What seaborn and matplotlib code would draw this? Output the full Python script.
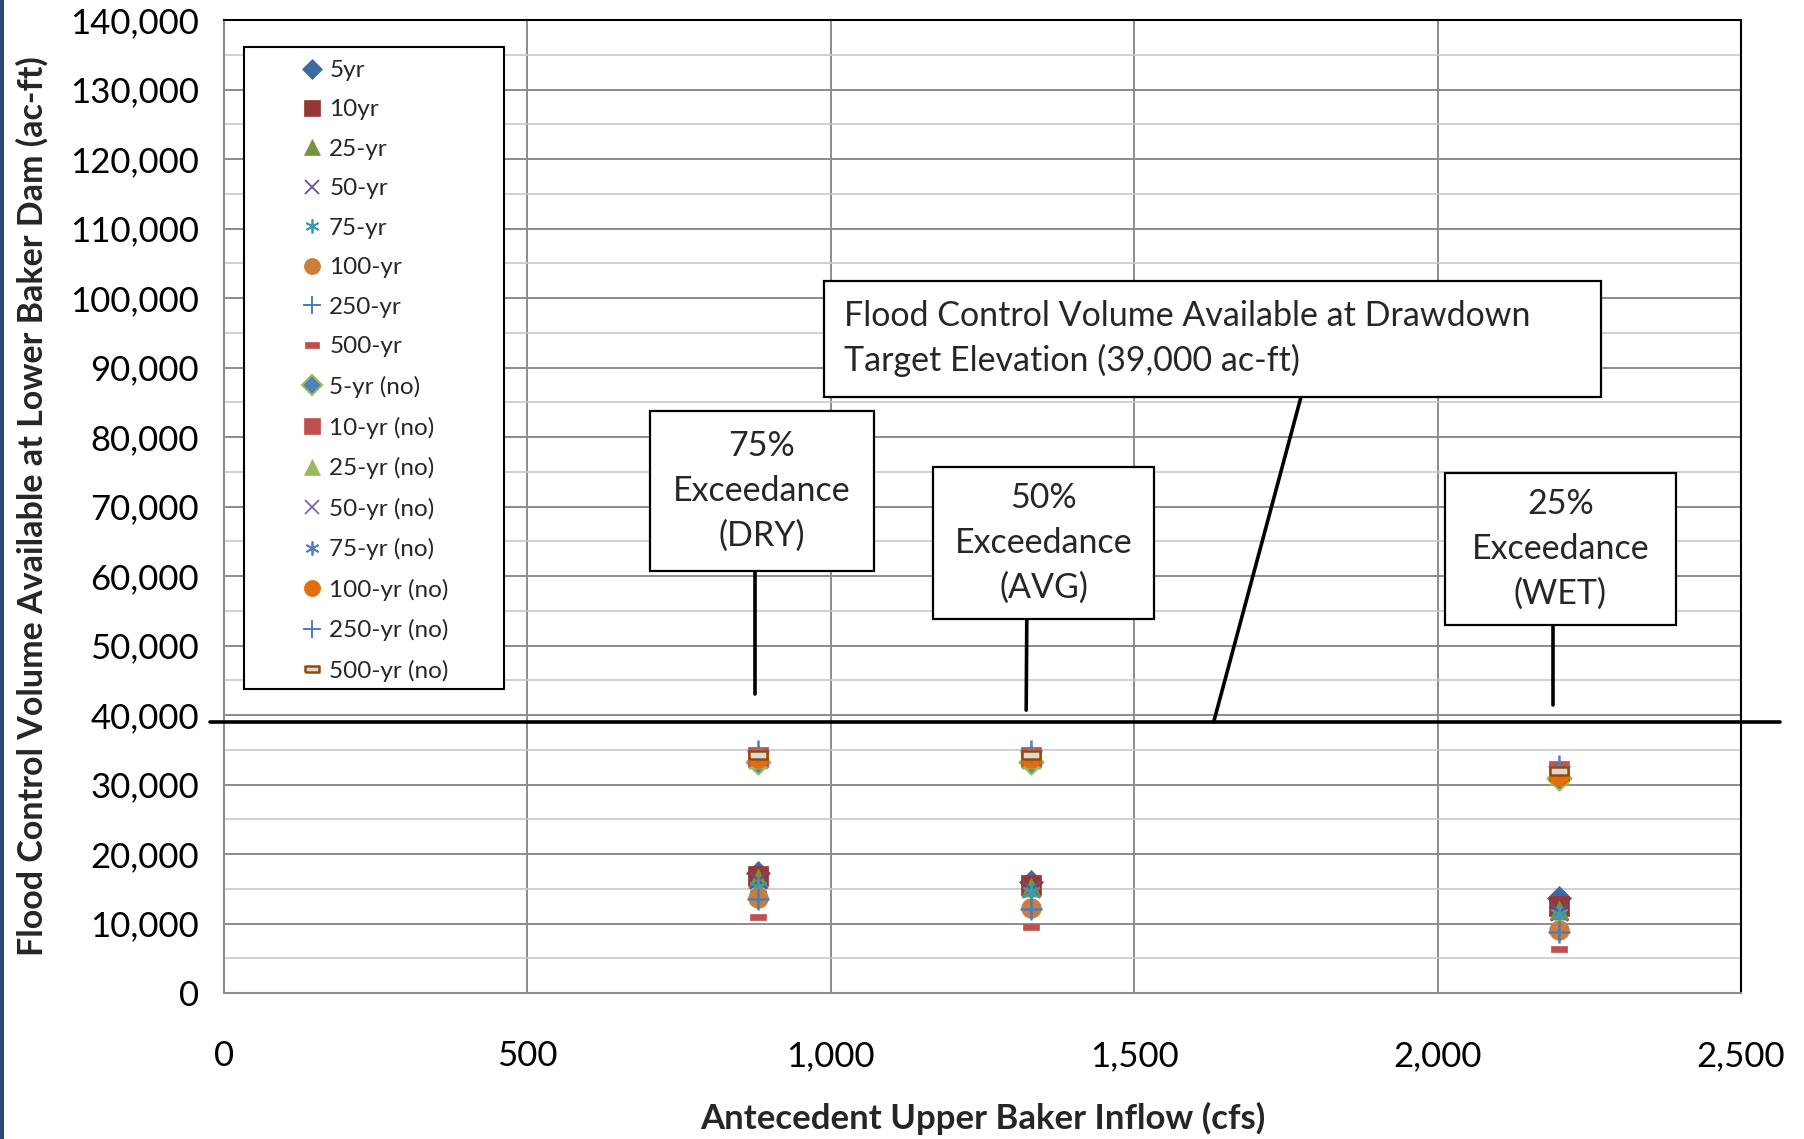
import numpy as np
import pandas as pd
import matplotlib
matplotlib.use("Agg")
import matplotlib.pyplot as plt
from matplotlib.patches import Rectangle
from matplotlib.ticker import FuncFormatter, MultipleLocator
from matplotlib.lines import Line2D
import seaborn as sns

# Antecedent inflow scenarios (cfs): 75%, 50%, 25% exceedance
inflow = [880, 1330, 2200]

# Flood control volume available (ac-ft), with drawdown
vol_5yr = [17200, 15900, 13700]
vol_10yr = [16800, 15600, 12500]
vol_25yr = [16500, 15200, 11900]
vol_50yr = [16200, 15000, 11600]
vol_75yr = [15300, 14600, 11300]
vol_100yr = [13700, 12300, 9000]
vol_250yr = [13500, 12100, 8800]
vol_500yr = [11000, 9500, 6300]

# Flood control volume available (ac-ft), no drawdown
vol_5yr_no = [33200, 33200, 31000]
vol_10yr_no = [34000, 34000, 31900]
vol_25yr_no = [33700, 33700, 31400]
vol_50yr_no = [34000, 34000, 31700]
vol_75yr_no = [34200, 34200, 31900]
vol_100yr_no = [33800, 33800, 31200]
vol_250yr_no = [34800, 34800, 32700]
vol_500yr_no = [34300, 34300, 32000]

series_names = ["5yr", "10yr", "25-yr", "50-yr", "75-yr", "100-yr", "250-yr", "500-yr",
                "5-yr (no)", "10-yr (no)", "25-yr (no)", "50-yr (no)", "75-yr (no)",
                "100-yr (no)", "250-yr (no)", "500-yr (no)"]
series_values = [vol_5yr, vol_10yr, vol_25yr, vol_50yr, vol_75yr, vol_100yr, vol_250yr, vol_500yr,
                 vol_5yr_no, vol_10yr_no, vol_25yr_no, vol_50yr_no, vol_75yr_no,
                 vol_100yr_no, vol_250yr_no, vol_500yr_no]

drawdown_target = 39000

# marker styling per series: (marker, face, edge, size, linewidth)
dash = [(-1, -0.4), (1, -0.4), (1, 0.4), (-1, 0.4), (-1, -0.4)]
star = (6, 2, 0)
styles = [
    ("D", "#3C6AA5", "#3C6AA5", 150, 0.5),
    ("s", "#953735", "#953735", 190, 0.5),
    ("^", "#77933C", "#77933C", 190, 0.5),
    ("x", "#6A4F8C", "#6A4F8C", 150, 1.6),
    (star, "#3A9AB0", "#3A9AB0", 150, 1.6),
    ("o", "#CD7D3A", "#CD7D3A", 200, 0.5),
    ("+", "#4A7EBB", "#4A7EBB", 250, 1.8),
    (dash, "#C0504D", "#C0504D", 140, 0.5),
    ("D", "#4F81BD", "#9BBB59", 150, 1.5),
    ("s", "#C0504D", "#C0504D", 190, 0.5),
    ("^", "#9BBB59", "#9BBB59", 190, 0.5),
    ("x", "#8064A2", "#8064A2", 150, 1.6),
    (star, "#4F81BD", "#4F81BD", 150, 1.6),
    ("o", "#E46C0A", "#E46C0A", 200, 0.5),
    ("+", "#4F81BD", "#4F81BD", 250, 1.8),
    (dash, "#D9D9D9", "#984807", 170, 1.8),
]

sns.set_style("white")
plt.rcParams["font.family"] = ["Lato", "DejaVu Sans"]

W, H = 1804, 1139
fig = plt.figure(figsize=(W / 100, H / 100), dpi=100)
ax = fig.add_axes([224 / W, 1 - 993 / H, (1741 - 224) / W, (993 - 20) / H])

records = []
for name, vals in zip(series_names, series_values):
    for x, v in zip(inflow, vals):
        records.append({"series": name, "inflow": x, "volume": v})
df = pd.DataFrame(records)

for name, (mk, fc, ec, sz, lw) in zip(series_names, styles):
    sub = df[df["series"] == name]
    if mk in ("x", "+") or mk == star:
        sns.scatterplot(data=sub, x="inflow", y="volume", ax=ax, marker=mk, color=fc,
                        s=sz, linewidth=lw, legend=False, zorder=3)
    else:
        sns.scatterplot(data=sub, x="inflow", y="volume", ax=ax, marker=mk, color=fc,
                        edgecolor=ec, s=sz, linewidth=lw, legend=False, zorder=3)

ax.set_xlim(0, 2500)
ax.set_ylim(0, 140000)
ax.xaxis.set_major_locator(MultipleLocator(500))
ax.yaxis.set_major_locator(MultipleLocator(10000))
ax.yaxis.set_minor_locator(MultipleLocator(5000))
fmt = FuncFormatter(lambda v, p: f"{v:,.0f}")
ax.xaxis.set_major_formatter(fmt)
ax.yaxis.set_major_formatter(fmt)

ax.grid(True, which="major", axis="both", color="#8C8C8C", lw=1.4, zorder=0)
ax.grid(True, which="minor", axis="y", color="#C8C8C8", lw=1.2, zorder=0)
ax.set_axisbelow(True)

for s in ("top", "right"):
    ax.spines[s].set_color("black")
    ax.spines[s].set_linewidth(1.5)
for s in ("left", "bottom"):
    ax.spines[s].set_color("#8C8C8C")
    ax.spines[s].set_linewidth(1.5)

ax.tick_params(axis="both", which="major", direction="out", length=8, width=1.4,
               color="#8C8C8C", labelsize=25, labelcolor="black")
ax.tick_params(axis="y", which="major", pad=10)
ax.tick_params(axis="x", which="major", pad=26)
ax.tick_params(axis="y", which="minor", length=0)

ax.set_xlabel("Antecedent Upper Baker Inflow (cfs)", fontsize=25, fontweight="bold")
ax.set_ylabel("Flood Control Volume Available at Lower Baker Dam (ac-ft)", fontsize=24.5,
              fontweight="bold")
ax.xaxis.label.set_va("center")
ax.yaxis.label.set_va("center")
ax.xaxis.set_label_coords(0.5, -0.129)
ax.yaxis.set_label_coords(-0.1266, 0.5)

# drawdown target line, extending past the plot area
ax.axhline(drawdown_target, xmin=-0.009, xmax=1.026, color="black", lw=2.6,
           clip_on=False, zorder=4)

# callout boxes
def callout(x0, x1, y0, y1, text, lx0, ly0, lx1, ly1, ha="center", tx=None, fs=24.5,
            ls=1.49):
    ax.plot([lx0, lx1], [ly0, ly1], color="black", lw=2.6, zorder=4)
    ax.add_patch(Rectangle((x0, y0), x1 - x0, y1 - y0, facecolor="white",
                           edgecolor="black", lw=1.6, zorder=5))
    if tx is None:
        tx = (x0 + x1) / 2
    ax.text(tx, (y0 + y1) / 2, text, ha=ha, va="center", fontsize=fs,
            linespacing=ls, zorder=6)

callout(702, 1071, 60700, 83700, "75%\nExceedance\n(DRY)", 875, 60700, 875, 43000)
callout(1168, 1533, 53800, 75700, "50%\nExceedance\n(AVG)", 1323, 53800, 1322, 40700)
callout(2012, 2393, 53000, 74800, "25%\nExceedance\n(WET)", 2190, 53000, 2190, 41400)
callout(989, 2269, 85800, 102500,
        "Flood Control Volume Available at Drawdown\nTarget Elevation (39,000 ac-ft)",
        1775, 85800, 1631, 39000, ha="left", tx=1022, fs=24.5, ls=1.46)

# legend with a separate frame
handles = []
for name, (mk, fc, ec, sz, lw) in zip(series_names, styles):
    ms = np.sqrt(sz) * 0.82
    if mk in ("x", "+") or mk == star:
        h = Line2D([], [], linestyle="none", marker=mk, color=fc, markersize=ms,
                   markeredgewidth=lw * 0.8)
    else:
        h = Line2D([], [], linestyle="none", marker=mk, markerfacecolor=fc,
                   markeredgecolor=ec, markersize=ms, markeredgewidth=lw)
    handles.append(h)

fig.patches.append(Rectangle((244 / W, 1 - 689 / H), 260 / W, 642 / H,
                             transform=fig.transFigure, facecolor="white",
                             edgecolor="black", lw=1.5, zorder=5))
leg = fig.legend(handles, series_names, loc="upper left",
                 bbox_to_anchor=(300 / W, 1 - 60 / H), frameon=False,
                 fontsize=17.5, handlelength=1.0, handletextpad=0.2,
                 labelspacing=0.76, borderpad=0, borderaxespad=0)
leg.set_zorder(6)

# dark edge strip on the left border
fig.patches.append(Rectangle((0, 0), 4 / W, 1, transform=fig.transFigure,
                             facecolor="#2C4A6E", edgecolor="none", zorder=0))

fig.savefig("out.png", dpi=100)
